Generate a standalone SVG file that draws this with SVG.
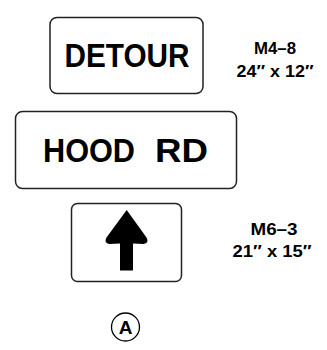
<svg xmlns="http://www.w3.org/2000/svg" width="327" height="350" viewBox="0 0 327 350">
<style>
.sign{fill:#fff;stroke:#222;stroke-width:1.5}
.big{font-family:"Liberation Sans",Arial,sans-serif;font-weight:bold;font-size:34px;fill:#000;text-anchor:middle}
.lbl{font-family:"Liberation Sans",Arial,sans-serif;font-weight:bold;font-size:17px;fill:#000;text-anchor:middle}
</style>
<rect width="327" height="350" fill="#fff"/>
<g id="detour">
<rect class="sign" x="50" y="17.5" width="153" height="76" rx="7"/>
<text class="big" x="127" y="67" textLength="125" lengthAdjust="spacingAndGlyphs">DETOUR</text>
</g>
<g id="label-m4-8">
<text class="lbl" x="275" y="54" textLength="42" lengthAdjust="spacingAndGlyphs">M4–8</text>
<text class="lbl" x="275" y="76.5" textLength="77" lengthAdjust="spacingAndGlyphs">24″ x 12″</text>
</g>
<g id="hood-rd">
<rect class="sign" x="15.5" y="111.5" width="221" height="77" rx="7"/>
<text class="big" x="89" y="162" textLength="92" lengthAdjust="spacingAndGlyphs">HOOD</text>
<text class="big" x="181.5" y="162" textLength="53" lengthAdjust="spacingAndGlyphs">RD</text>
</g>
<g id="arrow-sign">
<rect class="sign" x="71.5" y="203.5" width="110" height="78" rx="6"/>
<path d="M126.7,210 L146.5,237.5 Q149.5,243 143.5,244 L133,243.5 L133,270.5 L120,270.5 L120,243.5 L109.5,244 Q103.5,243 106.5,237.5 Z" fill="#000"/>
</g>
<g id="label-m6-3">
<text class="lbl" x="274" y="235" textLength="47" lengthAdjust="spacingAndGlyphs">M6–3</text>
<text class="lbl" x="272" y="257" textLength="79" lengthAdjust="spacingAndGlyphs">21″ x 15″</text>
</g>
<g id="callout-a">
<circle cx="125.5" cy="327" r="14" fill="#fff" stroke="#000" stroke-width="1.3"/>
<text x="125.5" y="334" font-family="Liberation Sans,Arial,sans-serif" font-weight="bold" font-size="19" text-anchor="middle" fill="#000">A</text>
</g>
</svg>
